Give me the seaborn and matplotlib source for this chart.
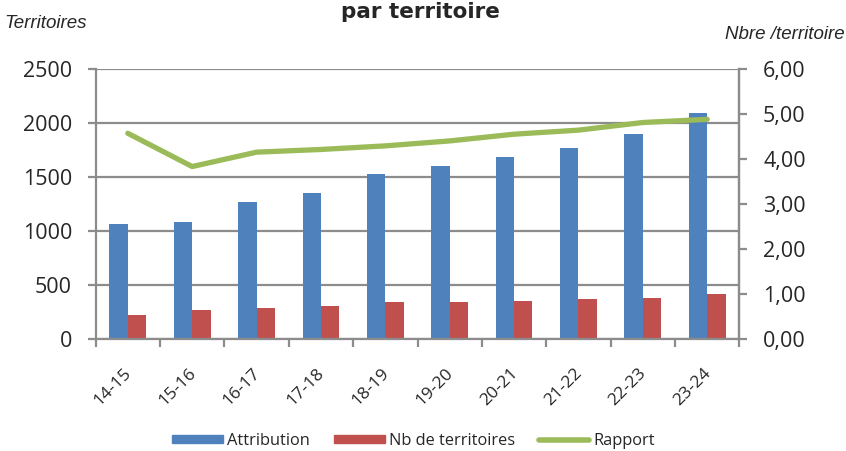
import numpy as np
import pandas as pd
import seaborn as sns
import matplotlib.pyplot as plt
from matplotlib.ticker import FuncFormatter, FixedLocator
from matplotlib.patches import Patch
from matplotlib.lines import Line2D

saisons = ['14-15', '15-16', '16-17', '17-18', '18-19', '19-20', '20-21', '21-22', '22-23', '23-24']
attribution = [1070, 1085, 1275, 1355, 1535, 1605, 1690, 1770, 1900, 2100]
nb_territoires = [222, 271, 287, 308, 343, 343, 355, 370, 380, 417]
rapport = [4.58, 3.84, 4.16, 4.22, 4.30, 4.41, 4.56, 4.65, 4.82, 4.89]
series = ['Attribution', 'Nb de territoires']
couleurs = ['#4F81BD', '#C0504D']
vert = '#9BBB59'
gris = '#8C8C8C'

df = pd.DataFrame({
    'saison': saisons * 2,
    'serie': [series[0]] * len(saisons) + [series[1]] * len(saisons),
    'valeur': attribution + nb_territoires,
})

sns.set_style('white')
plt.rcParams['font.family'] = ['Open Sans', 'DejaVu Sans']
arial = ['Liberation Sans', 'DejaVu Sans']

fig = plt.figure(figsize=(8.46, 4.51), dpi=100)
ax = fig.add_axes([0.113, 0.248, 0.761, 0.598])

sns.barplot(data=df, x='saison', y='valeur', hue='serie', palette=couleurs,
            width=0.57, gap=0, saturation=1, linewidth=0, ax=ax, legend=False)
ax.set_xlim(-0.5, 9.5)
ax.set_ylim(0, 2500)
ax.set_yticks(range(0, 2501, 500))
ax.grid(axis='y', color=gris, linewidth=1.6)
ax.set_axisbelow(True)
ax.set_xlabel('')
ax.set_ylabel('')
ax.spines['top'].set_visible(False)
for s in ['left', 'bottom', 'right']:
    ax.spines[s].set_color(gris)
    ax.spines[s].set_linewidth(1.6)
ax.tick_params(axis='y', labelsize=15.5, length=6, width=1.6, color=gris, pad=11, left=True)

# category boundaries as major ticks, labels on minor ticks
ax.xaxis.set_major_locator(FixedLocator(np.arange(-0.5, 10, 1)))
ax.set_xticklabels([])
ax.xaxis.set_minor_locator(FixedLocator(np.arange(0, 10) + 0.02))
ax.set_xticklabels(saisons, minor=True, rotation=45, ha='right', va='center',
                   rotation_mode='anchor', fontsize=12.5)
ax.tick_params(axis='x', which='major', length=6, width=1.6, color=gris, bottom=True)
ax.tick_params(axis='x', which='minor', length=0, pad=23)

ax2 = ax.twinx()
sns.lineplot(x=saisons, y=rapport, ax=ax2, color=vert, linewidth=3.8, sort=False)
ax2.set_ylim(0, 6)
ax2.set_yticks(range(0, 7))
ax2.yaxis.set_major_formatter(FuncFormatter(lambda v, p: f'{v:.2f}'.replace('.', ',')))
ax2.tick_params(axis='y', labelsize=15.5, length=6, width=1.6, color=gris, pad=11, right=True)
for s in ['top', 'left', 'bottom']:
    ax2.spines[s].set_visible(False)
ax2.spines['right'].set_color(gris)
ax2.spines['right'].set_linewidth(1.6)
ax2.set_xlim(-0.5, 9.5)

fig.text(0.497, 0.960, 'par territoire', ha='center', va='baseline', fontsize=15.5,
         fontweight='bold', family=['DejaVu Sans'])
fig.text(0.005, 0.938, 'Territoires', ha='left', va='baseline', fontsize=13.5, style='italic',
         family=arial)
fig.text(0.998, 0.913, 'Nbre /territoire', ha='right', va='baseline', fontsize=13.5, style='italic',
         family=arial)

handles = [Patch(color=couleurs[0]), Patch(color=couleurs[1]),
           Line2D([0], [0], color=vert, linewidth=4)]
fig.legend(handles, series + ['Rapport'], loc='center', bbox_to_anchor=(0.489, 0.022),
           ncol=3, frameon=False, fontsize=11.8, handlelength=3.1, handleheight=0.42,
           handletextpad=0.25, columnspacing=1.45)

fig.savefig('out.png', dpi=100)
